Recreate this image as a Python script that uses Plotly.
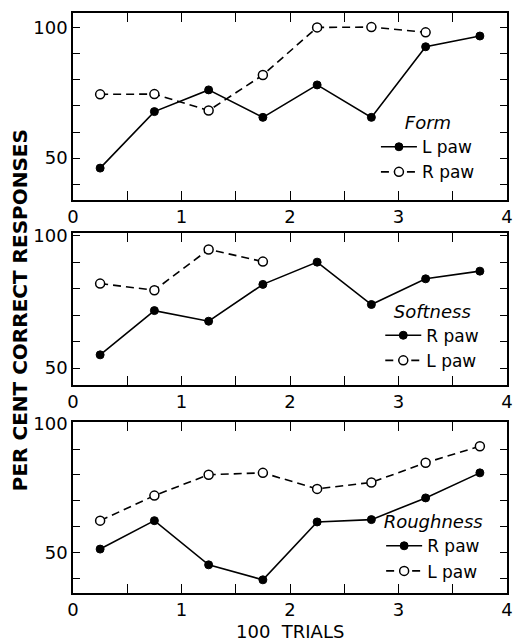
import plotly.graph_objects as go

# ---- data ----
blocks_full = [0.25, 0.75, 1.25, 1.75, 2.25, 2.75, 3.25, 3.75]
blocks_7 = [0.25, 0.75, 1.25, 1.75, 2.25, 2.75, 3.25]
blocks_4 = [0.25, 0.75, 1.25, 1.75]

form_L_paw = [46.2, 67.8, 76.1, 65.6, 78.0, 65.6, 92.6, 96.7]
form_R_paw = [74.4, 74.5, 68.2, 81.8, 100.0, 100.1, 98.1]

softness_R_paw = [55.0, 71.7, 67.7, 81.6, 90.0, 74.0, 83.7, 86.6]
softness_L_paw = [81.9, 79.4, 94.8, 90.2]

roughness_R_paw = [51.3, 62.3, 45.2, 39.4, 61.8, 62.7, 71.1, 80.8]
roughness_L_paw = [62.3, 72.0, 80.1, 80.8, 74.6, 77.1, 84.7, 91.1]

panel_titles = ["Form", "Softness", "Roughness"]
x_ticks_major = 1
x_ticks_minor = 0.5
y_ticks_major = 50
y_ticks_minor = 10

FONT = "DejaVu Sans"
BLACK = "black"

solid_line = dict(color=BLACK, width=1.6)
dash_line = dict(color=BLACK, width=1.6, dash="8px,5px")
filled = dict(symbol="circle", size=8, color=BLACK, line=dict(color=BLACK, width=1))
hollow = dict(symbol="circle", size=9, color="white", line=dict(color=BLACK, width=1.5))

fig = go.Figure()

def add(x, y, name, line, marker, xa, ya, leg):
    fig.add_trace(go.Scatter(x=x, y=y, mode="lines+markers", name=name,
                             line=line, marker=marker, xaxis=xa, yaxis=ya,
                             legend=leg, showlegend=True))

# Panel 1: Form
add(blocks_full, form_L_paw, "L paw", solid_line, filled, "x", "y", "legend")
add(blocks_7, form_R_paw, "R paw", dash_line, hollow, "x", "y", "legend")
# Panel 2: Softness
add(blocks_full, softness_R_paw, "R paw", solid_line, filled, "x2", "y2", "legend2")
add(blocks_4, softness_L_paw, "L paw", dash_line, hollow, "x2", "y2", "legend2")
# Panel 3: Roughness
add(blocks_full, roughness_R_paw, "R paw", solid_line, filled, "x3", "y3", "legend3")
add(blocks_full, roughness_L_paw, "L paw", dash_line, hollow, "x3", "y3", "legend3")

def xaxis(anchor):
    return dict(anchor=anchor, domain=[0, 1], range=[0, 4],
                dtick=x_ticks_major, tick0=0,
                ticks="inside", ticklen=9, tickwidth=1.4, tickcolor=BLACK,
                minor=dict(dtick=x_ticks_minor, tick0=0, ticks="inside", ticklen=9,
                           tickwidth=1.4, tickcolor=BLACK, showgrid=False),
                showline=True, linecolor=BLACK, linewidth=1.6, mirror="allticks",
                showgrid=False, zeroline=False, ticklabeloverflow="allow",
                automargin=False,
                tickfont=dict(family=FONT, size=18, color=BLACK))

def yaxis(anchor, domain, rng):
    return dict(anchor=anchor, domain=domain, range=rng,
                dtick=y_ticks_major, tick0=0,
                ticks="inside", ticklen=7, tickwidth=1.4, tickcolor=BLACK,
                minor=dict(dtick=y_ticks_minor, tick0=0, ticks="inside", ticklen=7,
                           tickwidth=1.4, tickcolor=BLACK, showgrid=False),
                showline=True, linecolor=BLACK, linewidth=1.6, mirror="allticks",
                showgrid=False, zeroline=False, ticklabeloverflow="allow",
                automargin=False,
                tickfont=dict(family=FONT, size=18, color=BLACK))

def legend(x, y, title):
    return dict(x=x, y=y, xanchor="left", yanchor="top", xref="paper", yref="paper",
                bgcolor="rgba(0,0,0,0)", borderwidth=0, itemwidth=36,
                traceorder="normal", tracegroupgap=0,
                font=dict(family=FONT, size=17, color=BLACK),
                title=dict(text=title, side="top center",
                           font=dict(family=FONT, size=18, color=BLACK,
                                     style="italic")),
                itemclick=False, itemdoubleclick=False)

fig.update_layout(
    width=516, height=644, autosize=False,
    margin=dict(l=73, r=9, t=13, b=51, autoexpand=False),
    paper_bgcolor="white", plot_bgcolor="white",
    font=dict(family=FONT, color=BLACK),
    xaxis=xaxis("y"), yaxis=yaxis("x", [0.678, 1.0], [34.1, 105.5]),
    xaxis2=xaxis("y2"), yaxis2=yaxis("x2", [0.359, 0.6207], [43.7, 101.0]),
    xaxis3=xaxis("y3"), yaxis3=yaxis("x3", [0.0, 0.294], [34.3, 100.3]),
    legend=legend(0.698, 0.840, panel_titles[0]),
    legend2=legend(0.708, 0.515, panel_titles[1]),
    legend3=legend(0.710, 0.152, panel_titles[2]),
    annotations=[
        dict(text="PER CENT CORRECT RESPONSES", xref="paper", yref="paper",
             x=(20 - 73) / 434, y=(593.3 - 310.5) / 580, xanchor="center",
             yanchor="middle", textangle=-90, showarrow=False,
             font=dict(family=FONT, size=20, color=BLACK, weight="bold")),
        dict(text="100  TRIALS", xref="paper", yref="paper",
             x=0.5, y=(593.3 - 632) / 580, xanchor="center", yanchor="middle",
             showarrow=False, font=dict(family=FONT, size=18, color=BLACK)),
    ],
)

fig.write_html(
    "out.html",
    config={"displayModeBar": False, "responsive": False},
    post_script=("document.documentElement.style.margin='0';"
                 "document.documentElement.style.overflow='hidden';"
                 "document.body.style.margin='0';"
                 "document.body.style.overflow='hidden';"),
)
